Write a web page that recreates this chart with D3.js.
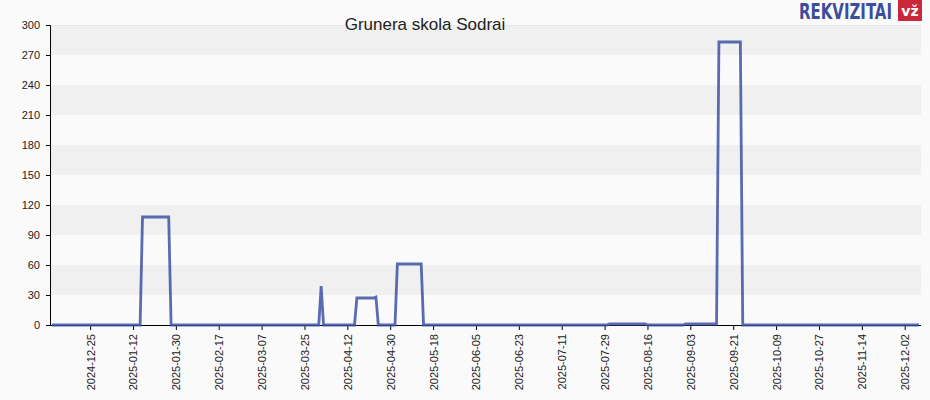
<!DOCTYPE html>
<html><head><meta charset="utf-8">
<script src="https://cdn.jsdelivr.net/npm/d3@7"></script>
<style>
html,body{margin:0;padding:0;background:#fafafa;}
svg{display:block;font-family:"Liberation Sans",Arial,sans-serif;}
</style></head>
<body>
<svg id="c" width="930" height="400"></svg>
<script>
const title = "Grunera skola Sodrai";
const dates = ["2024-12-09","2025-01-15","2025-01-16","2025-01-27","2025-01-28","2025-03-31","2025-04-01","2025-04-02",
  "2025-04-15","2025-04-16","2025-04-23","2025-04-24","2025-04-25","2025-05-02","2025-05-03","2025-05-13","2025-05-14",
  "2025-07-30","2025-07-31","2025-08-15","2025-08-16","2025-08-31","2025-09-01","2025-09-14","2025-09-15","2025-09-24",
  "2025-09-25","2025-12-08"];
const values = [0,0,108,108,0,0,39,0, 0,27,27,28,0,0,61,61,0, 0,1,1,0,0,1,1,283,283, 0,0];
const xTickLabels = ["2024-12-25","2025-01-12","2025-01-30","2025-02-17","2025-03-07","2025-03-25","2025-04-12","2025-04-30",
  "2025-05-18","2025-06-05","2025-06-23","2025-07-11","2025-07-29","2025-08-16","2025-09-03","2025-09-21","2025-10-09",
  "2025-10-27","2025-11-14","2025-12-02"];
const yTicks = [0,30,60,90,120,150,180,210,240,270,300];

const parse = d3.utcParse("%Y-%m-%d");
const data = dates.map((d,i)=>({d:parse(d), v:values[i]}));
const svg = d3.select("#c");
const x = d3.scaleUtc().domain([parse("2024-12-09"), parse("2025-12-08")]).range([52, 919]);
const y = d3.scaleLinear().domain([0,300]).range([325,25]);
const L = 50, R = 921;

// bands
for (let i=0;i<yTicks.length-1;i++){
  const a=yTicks[i], b=yTicks[i+1];
  svg.append("rect").attr("x",L).attr("width",R-L).attr("y",y(b)).attr("height",y(a)-y(b))
    .attr("fill", i%2===1 ? "#f0f0f0" : "#fafafa");
}
svg.append("line").attr("x1",L).attr("x2",R).attr("y1",y(300)+0.5).attr("y2",y(300)+0.5).attr("stroke","#e6e6e6");

// y axis
const ya = svg.append("g").attr("transform",`translate(${L},0)`)
  .call(d3.axisLeft(y).tickValues(yTicks).tickSize(4).tickPadding(6).tickFormat(d3.format("d")));
ya.select(".domain").attr("stroke","#000");
ya.selectAll("text").attr("font-size",11).attr("fill","#222").attr("font-family","Liberation Sans, Arial, sans-serif");

// x axis
const xa = svg.append("g").attr("transform",`translate(0,325)`)
  .call(d3.axisBottom(x).tickValues(xTickLabels.map(parse)).tickSize(5).tickFormat(d3.utcFormat("%Y-%m-%d")));
xa.select(".domain").attr("d",`M${L},0.5H${R}`).attr("stroke","#000");
xa.selectAll("text").attr("font-size",11).attr("fill","#222").attr("font-family","Liberation Sans, Arial, sans-serif")
  .attr("transform","rotate(-90)").attr("text-anchor","end").attr("dominant-baseline","central")
  .attr("dy",null).attr("dx",null).attr("x",-9).attr("y",0);

// line
const line = d3.line().x(d=>x(d.d)).y(d=>y(d.v));
svg.append("path").datum(data).attr("d",line).attr("fill","none")
  .attr("stroke","#3d52a3").attr("stroke-width",2.8).attr("stroke-opacity",0.85).attr("stroke-linejoin","miter");

// title
svg.append("text").attr("x",425).attr("y",30).attr("text-anchor","middle").attr("font-size",17)
  .attr("fill","#222").text(title);

// logo
const logo = svg.append("text").attr("x",0).attr("y",0).attr("font-size",21).attr("font-weight","bold")
  .attr("font-family","DejaVu Sans Condensed, DejaVu Sans, sans-serif").attr("fill","#3b4d9b")
  .text("REKVIZITAI");
const w = logo.node().getComputedTextLength();
logo.attr("transform",`translate(799,19) scale(${93/w},1)`);
svg.append("rect").attr("x",898).attr("y",0).attr("width",24).attr("height",21).attr("fill","#c8283a");
svg.append("text").attr("x",910).attr("y",16).attr("text-anchor","middle").attr("font-size",14).attr("font-weight","bold")
  .attr("font-family","DejaVu Sans, sans-serif").attr("fill","#fff").text("vž");
</script>
</body></html>
